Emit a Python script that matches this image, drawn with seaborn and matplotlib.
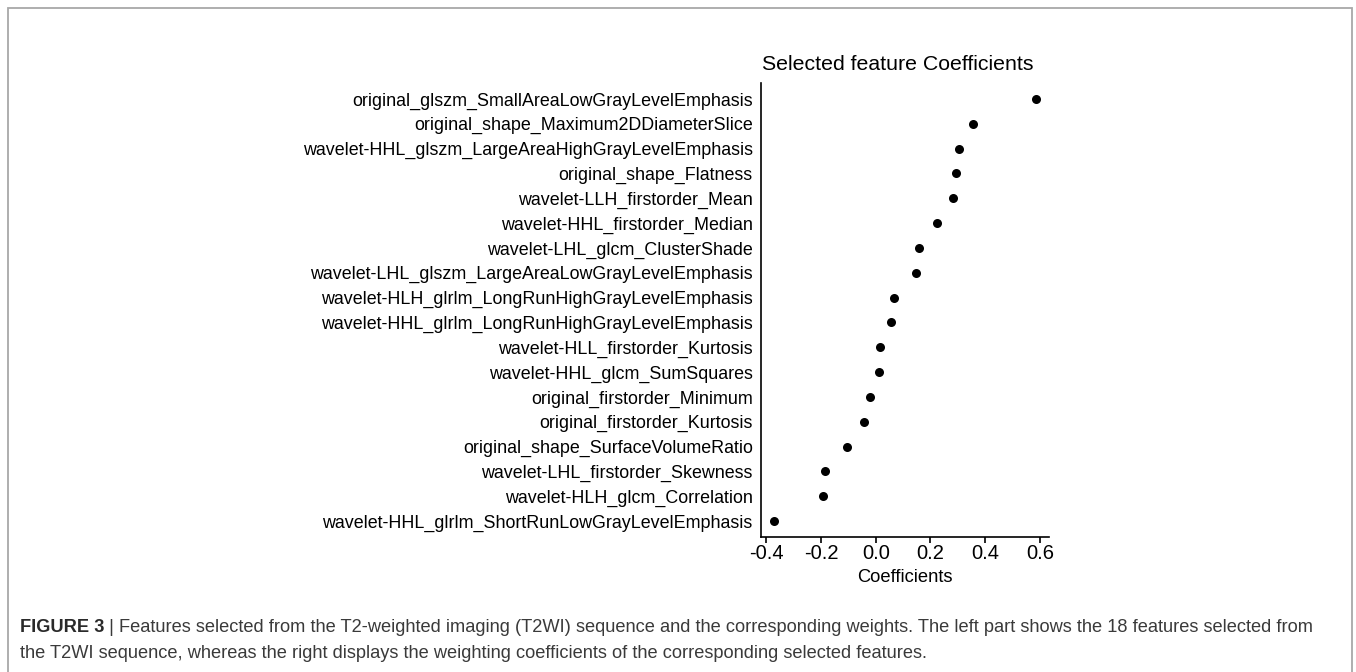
import matplotlib
matplotlib.use("Agg")
import matplotlib.pyplot as plt
import seaborn as sns
import pandas as pd
from matplotlib.patches import Rectangle

features = [
    "original_glszm_SmallAreaLowGrayLevelEmphasis",
    "original_shape_Maximum2DDiameterSlice",
    "wavelet-HHL_glszm_LargeAreaHighGrayLevelEmphasis",
    "original_shape_Flatness",
    "wavelet-LLH_firstorder_Mean",
    "wavelet-HHL_firstorder_Median",
    "wavelet-LHL_glcm_ClusterShade",
    "wavelet-LHL_glszm_LargeAreaLowGrayLevelEmphasis",
    "wavelet-HLH_glrlm_LongRunHighGrayLevelEmphasis",
    "wavelet-HHL_glrlm_LongRunHighGrayLevelEmphasis",
    "wavelet-HLL_firstorder_Kurtosis",
    "wavelet-HHL_glcm_SumSquares",
    "original_firstorder_Minimum",
    "original_firstorder_Kurtosis",
    "original_shape_SurfaceVolumeRatio",
    "wavelet-LHL_firstorder_Skewness",
    "wavelet-HLH_glcm_Correlation",
    "wavelet-HHL_glrlm_ShortRunLowGrayLevelEmphasis",
]
coefficients = [0.587, 0.354, 0.306, 0.293, 0.281, 0.225, 0.158, 0.149, 0.068,
                0.055, 0.017, 0.011, -0.020, -0.041, -0.105, -0.184, -0.192, -0.371]
x_ticks = [-0.4, -0.2, 0.0, 0.2, 0.4, 0.6]

caption_bold = "FIGURE 3"
caption_line1 = (" | Features selected from the T2-weighted imaging (T2WI) sequence and the "
                 "corresponding weights. The left part shows the 18 features selected from")
caption_line2 = ("the T2WI sequence, whereas the right displays the weighting coefficients "
                 "of the corresponding selected features.")

sns.set_theme(style="white")
plt.rcParams["font.family"] = ["Liberation Sans", "DejaVu Sans"]

df = pd.DataFrame({"feature": features, "coef": coefficients})

W, H = 1356, 672
fig = plt.figure(figsize=(W / 100, H / 100), dpi=100)
ax = fig.add_axes([761 / W, 1 - 537 / H, (1049 - 761) / W, (537 - 83) / H])

sns.stripplot(data=df, x="coef", y="feature", order=features, jitter=False,
              color="black", size=6.5, ax=ax, linewidth=0)

ax.set_xlim(-0.419, 0.633)
ax.set_ylim(len(features) - 1 + 0.64, -0.64)
ax.set_xticks(x_ticks)
ax.set_xticklabels([f"{t:.1f}" for t in x_ticks])
ax.set_xlabel("Coefficients", fontsize=13.2, labelpad=4, color="black")
ax.set_ylabel("")

# Title centred slightly left of the axes centre
fig.text(898 / W, 1 - 65 / H, "Selected feature Coefficients", fontsize=15.3,
         color="black", ha="center", va="center")

for side in ["top", "right"]:
    ax.spines[side].set_visible(False)
for side in ["left", "bottom"]:
    ax.spines[side].set_color("black")
    ax.spines[side].set_linewidth(1.2)

ax.tick_params(axis="x", bottom=True, length=4, width=1.2, color="black",
               labelsize=14.5, labelcolor="black", pad=1)
ax.tick_params(axis="y", left=False, labelsize=12.9, labelcolor="black", pad=0)

# Frame around the figure panel (open at the bottom edge)
frame = Rectangle((8 / W, -0.05), (1352 - 8) / W, 1 - 8 / H + 0.05,
                  transform=fig.transFigure, fill=False, edgecolor="#a8a8a8",
                  linewidth=1.3)
fig.patches.append(frame)

# Caption
cap_size = 13.15
t = fig.text(20 / W, 1 - 628 / H, caption_bold, fontsize=cap_size, fontweight="bold",
             color="#2a2a2a", va="center", ha="left")
fig.canvas.draw()
bb = t.get_window_extent()
fig.text(bb.x1 / W, 1 - 628 / H, caption_line1, fontsize=cap_size, color="#3a3a3a",
         va="center", ha="left")
fig.text(20 / W, 1 - 654 / H, caption_line2, fontsize=cap_size, color="#3a3a3a",
         va="center", ha="left")

fig.savefig("out.png", dpi=100)
